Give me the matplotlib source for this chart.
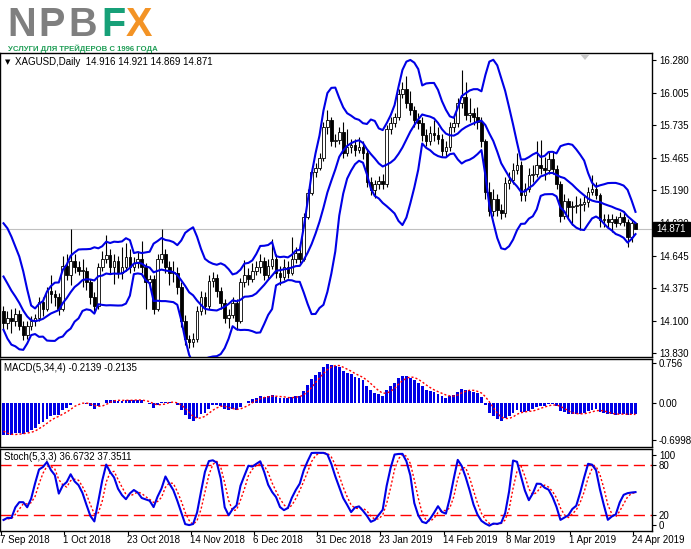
import numpy as np
import pandas as pd
import matplotlib
matplotlib.use('Agg')
import matplotlib.pyplot as plt
from matplotlib.patches import Rectangle, Polygon

# ---------------- data (XAGUSD daily) ----------------
date_labels = ["7 Sep 2018", "1 Oct 2018", "23 Oct 2018", "14 Nov 2018", "6 Dec 2018",
               "31 Dec 2018", "23 Jan 2019", "14 Feb 2019", "8 Mar 2019", "1 Apr 2019",
               "24 Apr 2019"]
date_label_bars = [0, 16, 32, 48, 64, 80, 96, 112, 128, 144, 160]

# closes before the first visible bar (needed for the indicators)
pre_close = [15.50, 15.58, 15.62, 15.55, 15.48, 15.52, 15.60, 15.66, 15.60, 15.52,
             15.46, 15.54, 15.62, 15.68, 15.61, 15.56, 15.50, 15.58, 15.64, 15.60,
             15.54, 15.48, 15.56, 15.62, 15.66, 15.59, 15.53, 15.46, 15.52, 15.58,
             15.62, 15.56, 15.50, 15.45, 15.50, 15.56, 15.50, 15.45, 15.42, 15.38,
             15.30, 15.15, 15.00, 14.90, 14.85, 14.80, 14.78, 14.75, 14.72, 14.75,
             14.72, 14.70, 14.70, 14.65, 14.60, 14.62, 14.55, 14.42, 14.20, 14.18]
pre_high = [14.80, 14.78, 14.76, 14.72, 14.68, 14.66, 14.66, 14.58, 14.44, 14.25]
pre_low = [14.66, 14.64, 14.62, 14.60, 14.55, 14.56, 14.50, 14.38, 14.15, 14.05]

close = [14.08, 14.12, 14.10, 14.16, 14.06, 13.98, 14.06, 14.10, 14.12, 14.26,
         14.20, 14.35, 14.32, 14.30, 14.20, 14.56, 14.48, 14.60, 14.55, 14.52,
         14.52, 14.42, 14.30, 14.22, 14.55, 14.62, 14.65, 14.55, 14.60, 14.50,
         14.55, 14.63, 14.55, 14.58, 14.62, 14.55, 14.42, 14.45, 14.20, 14.62,
         14.66, 14.55, 14.50, 14.50, 14.38, 14.10, 13.95, 13.92, 13.95, 14.18,
         14.30, 14.22, 14.43, 14.46, 14.35, 14.25, 14.12, 14.15, 14.25, 14.10,
         14.42, 14.48, 14.45, 14.52, 14.55, 14.60, 14.48, 14.56, 14.62, 14.50,
         14.47, 14.55, 14.50, 14.62, 14.67, 14.62,
         14.97, 15.17, 15.34, 15.38, 15.46, 15.72, 15.78, 15.60, 15.61, 15.68,
         15.50, 15.55, 15.57, 15.53, 15.55, 15.50, 15.26, 15.19, 15.24, 15.27,
         15.24, 15.70, 15.75, 15.80, 16.00, 16.04, 15.92,
         15.86, 15.78, 15.75, 15.65, 15.60, 15.67, 15.65,
         15.62, 15.52, 15.55, 15.72, 15.75, 15.92, 15.97, 15.82, 15.84, 15.80,
         15.76, 15.60, 15.18, 15.02, 15.12, 15.03, 15.00, 15.25, 15.28, 15.36,
         15.40, 15.15, 15.20, 15.32, 15.33, 15.40, 15.38, 15.36, 15.45, 15.37,
         15.24, 14.98, 15.10, 15.05, 15.06, 15.07, 15.08, 15.09, 15.18, 15.20,
         15.15, 14.94, 14.95, 14.93, 14.95, 14.92, 14.97, 14.93, 14.80, 14.916,
         14.871]
high = [14.22, 14.18, 14.20, 14.21, 14.19, 14.10, 14.10, 14.14, 14.16, 14.30,
        14.30, 14.38, 14.48, 14.36, 14.33, 14.64, 14.66, 14.87, 14.66, 14.60,
        14.62, 14.55, 14.45, 14.34, 14.58, 14.68, 14.82, 14.70, 14.66, 14.64,
        14.72, 14.75, 14.70, 14.63, 14.68, 14.77, 14.58, 14.48, 14.48, 14.66,
        14.87, 14.70, 14.60, 14.60, 14.55, 14.42, 14.15, 13.98, 14.00, 14.22,
        14.35, 14.34, 14.48, 14.51, 14.49, 14.38, 14.28, 14.20, 14.30, 14.28,
        14.46, 14.61, 14.54, 14.58, 14.60, 14.66, 14.63, 14.62, 14.78, 14.66,
        14.56, 14.62, 14.60, 14.80, 14.72, 14.74,
        15.00, 15.20, 15.38, 15.42, 15.50, 15.76, 15.86, 15.80, 15.66, 15.72,
        15.76, 15.70, 15.62, 15.62, 15.64, 15.60, 15.54, 15.30, 15.28, 15.31,
        15.33, 15.74, 15.80, 15.84, 16.04, 16.10, 16.15,
        16.02, 15.90, 15.84, 15.80, 15.70, 15.73, 15.78,
        15.72, 15.66, 15.60, 15.76, 15.80, 15.96, 16.20, 16.10, 15.96, 15.88,
        15.89, 15.80, 15.62, 15.26, 15.20, 15.16, 15.08, 15.30, 15.34, 15.42,
        15.50, 15.44, 15.25, 15.38, 15.40, 15.60, 15.61, 15.47, 15.52, 15.52,
        15.40, 15.27, 15.16, 15.13, 15.10, 15.14, 15.13, 15.14, 15.22, 15.32,
        15.26, 15.17, 14.99, 14.99, 14.99, 14.98, 15.01, 15.02, 14.95, 14.94,
        14.921]
low = [14.02, 14.03, 14.00, 14.06, 14.02, 13.94, 13.95, 14.02, 14.06, 14.10,
       14.14, 14.18, 14.25, 14.22, 14.15, 14.18, 14.44, 14.40, 14.50, 14.48,
       14.38, 14.36, 14.24, 14.18, 14.20, 14.52, 14.58, 14.50, 14.41, 14.46,
       14.45, 14.52, 14.50, 14.52, 14.54, 14.50, 14.20, 14.38, 14.16, 14.18,
       14.58, 14.50, 14.40, 14.42, 14.32, 14.05, 13.90, 13.87, 13.88, 13.92,
       14.15, 14.16, 14.20, 14.38, 14.30, 14.20, 14.08, 14.04, 14.12, 14.02,
       14.08, 14.38, 14.40, 14.42, 14.48, 14.50, 14.44, 14.45, 14.53, 14.46,
       14.40, 14.44, 14.46, 14.48, 14.58, 14.58,
       14.60, 14.95, 15.15, 15.30, 15.36, 15.44, 15.66, 15.56, 15.55, 15.58,
       15.46, 15.48, 15.50, 15.48, 15.50, 15.45, 15.22, 15.15, 15.13, 15.20,
       15.20, 15.22, 15.66, 15.72, 15.78, 15.96, 15.88,
       15.82, 15.72, 15.70, 15.60, 15.56, 15.57, 15.60,
       15.58, 15.48, 15.47, 15.52, 15.68, 15.72, 15.88, 15.78, 15.76, 15.74,
       15.70, 15.55, 15.12, 14.98, 14.98, 14.98, 14.95, 14.97, 15.20, 15.24,
       15.33, 15.10, 15.10, 15.18, 15.26, 15.30, 15.33, 15.28, 15.33, 15.33,
       15.20, 14.93, 14.95, 14.96, 14.90, 15.00, 14.86, 15.02, 15.05, 15.15,
       15.12, 14.88, 14.88, 14.88, 14.84, 14.88, 14.90, 14.89, 14.72, 14.76,
       14.869]

price_ticks = [16.280, 16.005, 15.735, 15.465, 15.190, 14.920, 14.645, 14.375, 14.100, 13.830]
macd_tick_vals = [0.756, 0.0, -0.6998]
macd_tick_text = ["0.756", "0.00", "-0.6998"]
header_text = "XAGUSD,Daily  14.916 14.921 14.869 14.871"
macd_text = "MACD(5,34,4) -0.2139 -0.2135"
stoch_text = "Stoch(5,3,3) 36.6732 37.3511"
bid_price = 14.871

# ---------------- indicators ----------------
BB_PERIOD = 10
n = len(close)
npre = len(pre_close)
all_close = pd.Series(pre_close + close)
mid = all_close.rolling(BB_PERIOD).mean()
sd = all_close.rolling(BB_PERIOD).std(ddof=0)
bb_mid = mid.values[npre:]
bb_up = (mid + 2 * sd).values[npre:]
bb_lo = (mid - 2 * sd).values[npre:]

ema5 = all_close.ewm(span=5, adjust=False).mean()
ema34 = all_close.ewm(span=34, adjust=False).mean()
macd_all = ema5 - ema34
sig_all = macd_all.rolling(4).mean()
macd = macd_all.values[npre:]
macd_sig = sig_all.values[npre:]

k_len = len(pre_high)
sc = pd.Series(pre_close[-k_len:] + close)
sh = pd.Series(pre_high + high)
sl = pd.Series(pre_low + low)
hh = sh.rolling(5).max()
ll = sl.rolling(5).min()
stk = 100 * (sc - ll).rolling(3).sum() / (hh - ll).rolling(3).sum()
std_ = stk.rolling(3).mean()
stoch_k = stk.values[k_len:]
stoch_d = std_.values[k_len:]

opens = [pre_close[-1]] + close[:-1]

# ---------------- figure ----------------
W, H = 691, 549
fig = plt.figure(figsize=(W / 100, H / 100), dpi=100)
plt.rcParams['font.family'] = ['Liberation Sans', 'DejaVu Sans']

PLOT_W = 652
BAR_PX = 3.95      # pixels per bar
BAR0_PX = 3.5      # pixel of the first candle centre


def px_axes(x0, y0, x1, y1):
    return fig.add_axes([x0 / W, 1 - y1 / H, (x1 - x0) / W, (y1 - y0) / H])


X0 = (0 - BAR0_PX) / BAR_PX
X1 = (PLOT_W - BAR0_PX) / BAR_PX
xs = np.arange(n)
BLUE = '#0000e6'

ax = px_axes(0, 53, PLOT_W, 357)
ax.set_xlim(X0, X1)
ax.set_ylim(13.797, 16.339)
ax.axhline(bid_price, color='#c0c0c0', lw=0.8, zorder=1)
for i in range(n):
    o, c, h, l = opens[i], close[i], high[i], low[i]
    ax.vlines(i, l, h, color='black', lw=0.8, zorder=2)
    bottom = min(o, c)
    height = max(abs(c - o), 0.004)
    fc = 'white' if c >= o else 'black'
    ax.add_patch(Rectangle((i - 0.34, bottom), 0.68, height, facecolor=fc,
                           edgecolor='black', lw=0.6, zorder=3))
ax.plot(xs, bb_up, color=BLUE, lw=1.5, zorder=4)
ax.plot(xs, bb_mid, color=BLUE, lw=1.5, zorder=4)
ax.plot(xs, bb_lo, color=BLUE, lw=1.5, zorder=4)

ax.yaxis.tick_right()
ax.set_yticks(price_ticks)
ax.set_yticklabels([f"{v:.3f}" for v in price_ticks])
ax.set_xticks([])

macd_ax = px_axes(0, 359, PLOT_W, 447)
macd_ax.set_xlim(X0, X1)
macd_ax.set_ylim(-0.832, 0.832)
macd_ax.bar(xs, macd, width=0.72, color=BLUE, zorder=2)
macd_ax.plot(xs, macd_sig, color='red', lw=1.0, ls=(0, (1.5, 1.5)), zorder=3)
macd_ax.yaxis.tick_right()
macd_ax.set_yticks(macd_tick_vals)
macd_ax.set_yticklabels(macd_tick_text)
macd_ax.set_xticks([])

st_ax = px_axes(0, 449, PLOT_W, 531)
st_ax.set_xlim(X0, X1)
st_ax.set_ylim(0, 100)
for lv in (20, 80):
    st_ax.axhline(lv, color='red', lw=1.0, ls=(0, (8, 4)), zorder=1)
st_ax.plot(xs, stoch_d, color='red', lw=1.0, ls=(0, (1.5, 1.5)), zorder=2)
st_ax.plot(xs, stoch_k, color=BLUE, lw=1.5, zorder=3)
st_ax.yaxis.tick_right()
st_ax.set_yticks([93, 80, 20, 7])
st_ax.set_yticklabels(["100", "80", "20", "0"])
st_ax.set_xticks([b - 0.6 for b in date_label_bars])
st_ax.set_xticklabels([])
st_ax.tick_params(axis='x', length=3, width=0.8, direction='out')

for a in (ax, macd_ax, st_ax):
    for s in a.spines.values():
        s.set_linewidth(1.0)
        s.set_color('black')
    a.tick_params(axis='y', length=3, width=0.8, labelsize=7, pad=2, colors='black')

for b, lab in zip(date_label_bars, date_labels):
    xp = BAR0_PX + BAR_PX * (b - 0.6)
    fig.text(max(xp - 1, 0) / W, 1 - 540 / H, lab, fontsize=7, ha='left', va='center')

# indicator / symbol headers
fig.text(5 / W, 1 - 62 / H, "\u25bc", fontsize=5, ha='left', va='center',
         family=['DejaVu Sans'])
fig.text(15 / W, 1 - 62 / H, header_text, fontsize=7, ha='left', va='center')
fig.text(4 / W, 1 - 368 / H, macd_text, fontsize=7, ha='left', va='center')
fig.text(4 / W, 1 - 457 / H, stoch_text, fontsize=7, ha='left', va='center')

# bid price box on the price scale
fig.patches.append(Rectangle((653 / W, 1 - 236 / H), 37 / W, 14 / H, transform=fig.transFigure,
                             facecolor='black', edgecolor='black', zorder=5))
fig.text(671 / W, 1 - 229 / H, "14.871", color='white', fontsize=7, ha='center',
         va='center', zorder=6)

# small grey shift marker at the top of the chart
fig.patches.append(Polygon([[580 / W, 1 - 54 / H], [590 / W, 1 - 54 / H], [585 / W, 1 - 60 / H]],
                           closed=True, transform=fig.transFigure, facecolor='#c8c8c8',
                           edgecolor='none', zorder=5))

# logo
logo_y = 1 - 36.5 / H
for letter, xp, col in [("N", 7, '#7f7f7f'), ("P", 38, '#7f7f7f'), ("B", 68, '#7f7f7f'),
                        ("F", 101, '#17a078'), ("X", 126, '#f39325')]:
    fig.text(xp / W, logo_y, letter, fontsize=28.5, fontweight='bold', color=col,
             ha='left', va='baseline')
fig.text(8 / W, 1 - 48.5 / H, "УСЛУГИ ДЛЯ ТРЕЙДЕРОВ С 1996 ГОДА", fontsize=5.6,
         fontweight='bold', color='#1f9d55', ha='left', va='center')

fig.savefig('out.png', dpi=100)
